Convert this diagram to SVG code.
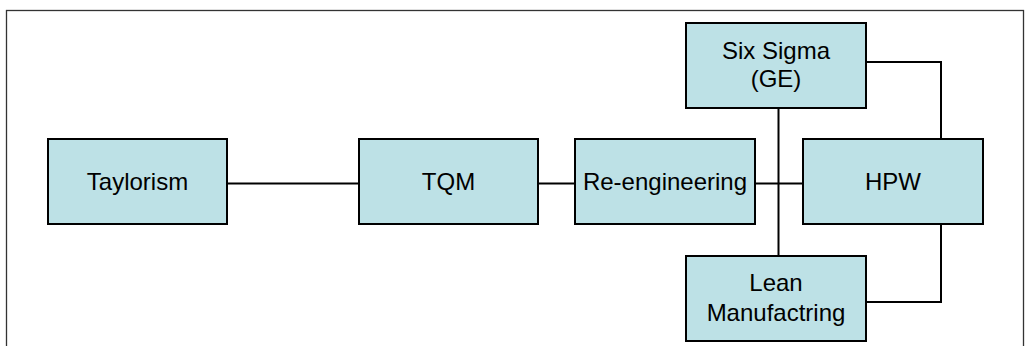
<svg xmlns="http://www.w3.org/2000/svg" width="1025" height="346" viewBox="0 0 1025 346">
<style>
.box{fill:#BDE1E6;stroke:#000;stroke-width:2}
.lbl{font-family:"Liberation Sans",Arial,sans-serif;font-size:24px;fill:#000;text-anchor:middle}
.con{fill:none;stroke:#000;stroke-width:2}
</style>
<rect x="6.5" y="10.5" width="1017" height="400" fill="#fff" stroke="#333" stroke-width="1.3"/>
<g id="connectors">
<path class="con" d="M227 183.5H359"/>
<path class="con" d="M538 183.5H575"/>
<path class="con" d="M755 183.5H803"/>
<path class="con" d="M778.5 108V256"/>
<path class="con" d="M866 62H941V139"/>
<path class="con" d="M941 224V302H866"/>
</g>
<g id="taylorism"><rect class="box" x="48" y="139" width="179" height="85"/><text class="lbl" x="137.5" y="189.5">Taylorism</text></g>
<g id="tqm"><rect class="box" x="359" y="139" width="179" height="85"/><text class="lbl" x="448.5" y="189.5">TQM</text></g>
<g id="reengineering"><rect class="box" x="575" y="139" width="180" height="85"/><text class="lbl" x="665" y="189.5">Re-engineering</text></g>
<g id="hpw"><rect class="box" x="803" y="139" width="180" height="85"/><text class="lbl" x="893" y="189.5">HPW</text></g>
<g id="sixsigma"><rect class="box" x="686" y="23" width="180" height="85"/><text class="lbl" x="776" y="58.5">Six Sigma</text><text class="lbl" x="776" y="86.5">(GE)</text></g>
<g id="lean"><rect class="box" x="686" y="256" width="180" height="85"/><text class="lbl" x="776" y="291">Lean</text><text class="lbl" x="776" y="320.5">Manufactring</text></g>
</svg>
